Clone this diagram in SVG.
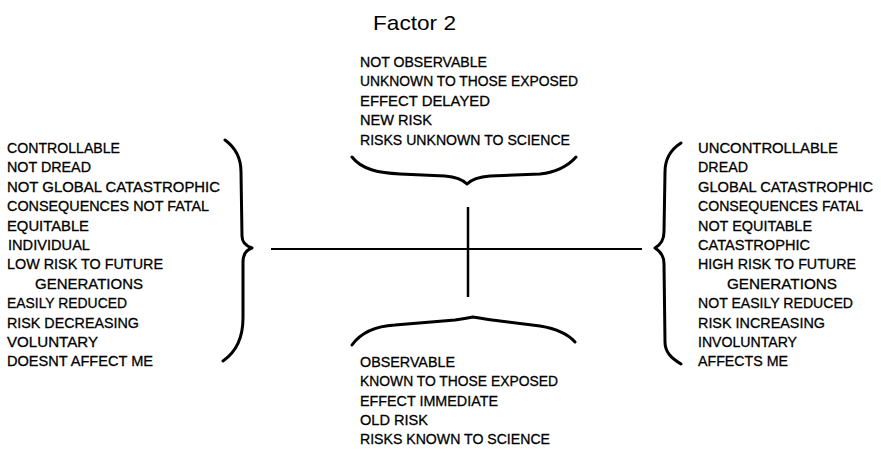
<svg xmlns="http://www.w3.org/2000/svg" width="881" height="459" viewBox="0 0 881 459">
<style>
.t{font-family:"Liberation Sans",Arial,Helvetica,sans-serif;font-size:15px;fill:#000;stroke:#000;stroke-width:0.3}
.h{font-family:"Liberation Sans",Arial,Helvetica,sans-serif;font-size:21px;fill:#000}
.br{fill:none;stroke:#000;stroke-width:3;stroke-linecap:round;stroke-linejoin:round}
.ln{fill:none;stroke:#000}
</style>
<rect width="881" height="459" fill="#fff"/>
<g id="title">
<text class="h" x="373" y="30" textLength="83" lengthAdjust="spacingAndGlyphs">Factor 2</text>
</g>
<g id="top-node">
<text class="t" x="360" y="67" textLength="127" lengthAdjust="spacingAndGlyphs">NOT OBSERVABLE</text>
<text class="t" x="360" y="86.4" textLength="218" lengthAdjust="spacingAndGlyphs">UNKNOWN TO THOSE EXPOSED</text>
<text class="t" x="360" y="105.8" textLength="130" lengthAdjust="spacingAndGlyphs">EFFECT DELAYED</text>
<text class="t" x="360" y="125.2" textLength="72" lengthAdjust="spacingAndGlyphs">NEW RISK</text>
<text class="t" x="360" y="144.6" textLength="210" lengthAdjust="spacingAndGlyphs">RISKS UNKNOWN TO SCIENCE</text>
<path class="br" d="M352,157 C362,170 380,173 400,174 L445,176 C456,177 462,179 467,184 C472,179 478,177 490,176 L540,174 C558,172 568,166 576,157"/>
</g>
<g id="bottom-node">
<path class="br" d="M352,345 C362,331 378,326 395,325 L455,320 C462,319 468,318 473,317 C480,318 490,320 500,321 L540,326 C558,329 568,334 575,342"/>
<text class="t" x="360" y="366.7" textLength="95" lengthAdjust="spacingAndGlyphs">OBSERVABLE</text>
<text class="t" x="360" y="386.1" textLength="198" lengthAdjust="spacingAndGlyphs">KNOWN TO THOSE EXPOSED</text>
<text class="t" x="360" y="405.5" textLength="138" lengthAdjust="spacingAndGlyphs">EFFECT IMMEDIATE</text>
<text class="t" x="360" y="424.9" textLength="68" lengthAdjust="spacingAndGlyphs">OLD RISK</text>
<text class="t" x="360" y="444.3" textLength="190" lengthAdjust="spacingAndGlyphs">RISKS KNOWN TO SCIENCE</text>
</g>
<g id="left-node">
<text class="t" x="7" y="153" textLength="113" lengthAdjust="spacingAndGlyphs">CONTROLLABLE</text>
<text class="t" x="7" y="172.4" textLength="84" lengthAdjust="spacingAndGlyphs">NOT DREAD</text>
<text class="t" x="7" y="191.8" textLength="213" lengthAdjust="spacingAndGlyphs">NOT GLOBAL CATASTROPHIC</text>
<text class="t" x="7" y="211.2" textLength="202" lengthAdjust="spacingAndGlyphs">CONSEQUENCES NOT FATAL</text>
<text class="t" x="7" y="230.6" textLength="82" lengthAdjust="spacingAndGlyphs">EQUITABLE</text>
<text class="t" x="8" y="250" textLength="82" lengthAdjust="spacingAndGlyphs">INDIVIDUAL</text>
<text class="t" x="7" y="269.4" textLength="156" lengthAdjust="spacingAndGlyphs">LOW RISK TO FUTURE</text>
<text class="t" x="35" y="288.8" textLength="108" lengthAdjust="spacingAndGlyphs">GENERATIONS</text>
<text class="t" x="7" y="308.2" textLength="120" lengthAdjust="spacingAndGlyphs">EASILY REDUCED</text>
<text class="t" x="7" y="327.6" textLength="132" lengthAdjust="spacingAndGlyphs">RISK DECREASING</text>
<text class="t" x="7" y="347" textLength="91" lengthAdjust="spacingAndGlyphs">VOLUNTARY</text>
<text class="t" x="7" y="366.4" textLength="146" lengthAdjust="spacingAndGlyphs">DOESNT AFFECT ME</text>
<path class="br" d="M225,140 C236,148 241,158 241,172 L242,236 C242,243 246,246 252,248 C246,250 243,254 243,262 L243,318 C243,338 236,352 223,361"/>
</g>
<g id="right-node">
<path class="br" d="M681,143 C670,150 665,160 665,172 L664,232 C664,240 660,245 655,248 C660,251 664,256 664,264 L665,342 C665,352 671,358 681,364"/>
<text class="t" x="698" y="153" textLength="140" lengthAdjust="spacingAndGlyphs">UNCONTROLLABLE</text>
<text class="t" x="698" y="172.4" textLength="50" lengthAdjust="spacingAndGlyphs">DREAD</text>
<text class="t" x="698" y="191.8" textLength="175" lengthAdjust="spacingAndGlyphs">GLOBAL CATASTROPHIC</text>
<text class="t" x="698" y="211.2" textLength="165" lengthAdjust="spacingAndGlyphs">CONSEQUENCES FATAL</text>
<text class="t" x="698" y="230.6" textLength="114" lengthAdjust="spacingAndGlyphs">NOT EQUITABLE</text>
<text class="t" x="698" y="250" textLength="112" lengthAdjust="spacingAndGlyphs">CATASTROPHIC</text>
<text class="t" x="698" y="269.4" textLength="158" lengthAdjust="spacingAndGlyphs">HIGH RISK TO FUTURE</text>
<text class="t" x="727" y="288.8" textLength="110" lengthAdjust="spacingAndGlyphs">GENERATIONS</text>
<text class="t" x="698" y="308.2" textLength="155" lengthAdjust="spacingAndGlyphs">NOT EASILY REDUCED</text>
<text class="t" x="698" y="327.6" textLength="127" lengthAdjust="spacingAndGlyphs">RISK INCREASING</text>
<text class="t" x="698" y="347" textLength="99" lengthAdjust="spacingAndGlyphs">INVOLUNTARY</text>
<text class="t" x="698" y="366.4" textLength="90" lengthAdjust="spacingAndGlyphs">AFFECTS ME</text>
</g>
<g id="connectors">
<path class="ln" stroke-width="2" d="M271,249 H642"/>
<path class="ln" stroke-width="2.5" d="M468,207 V297"/>
</g>
</svg>
